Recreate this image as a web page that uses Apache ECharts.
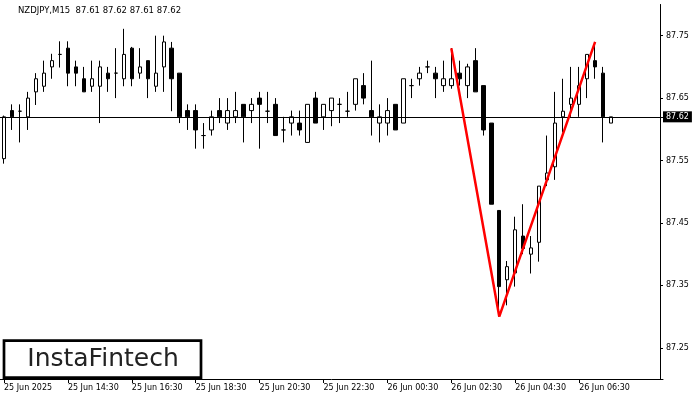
<!DOCTYPE html>
<html>
<head>
<meta charset="utf-8">
<script src="https://cdn.jsdelivr.net/npm/echarts@6/dist/echarts.min.js"></script>
<style>html,body{margin:0;padding:0;background:#fff}#c{width:700px;height:400px}</style>
</head>
<body>
<div id="c"></div>
<script>
// Tick labels on the time axis (every 8 bars, 2 hours)
const tickLabels = ['25 Jun 2025','25 Jun 14:30','25 Jun 16:30','25 Jun 18:30','25 Jun 20:30','25 Jun 22:30','26 Jun 00:30','26 Jun 02:30','26 Jun 04:30','26 Jun 06:30'];
// Price tick labels
const priceTicks = [87.25, 87.35, 87.45, 87.55, 87.65, 87.75];
const symbolTitle = 'NZDJPY,M15  87.61 87.62 87.61 87.62';
const currentPrice = 87.62;

// OHLC series (77 bars of 15 minutes, from 25 Jun 12:30)
const opens  = [87.553,87.630,87.629,87.620,87.660,87.669,87.700,87.720,87.730,87.700,87.681,87.669,87.669,87.690,87.690,87.681,87.730,87.690,87.710,87.669,87.700,87.730,87.690,87.630,87.630,87.590,87.599,87.630,87.610,87.620,87.640,87.630,87.650,87.629,87.640,87.599,87.610,87.610,87.579,87.650,87.620,87.630,87.640,87.629,87.640,87.670,87.630,87.610,87.610,87.640,87.610,87.670,87.681,87.700,87.690,87.670,87.670,87.690,87.670,87.710,87.670,87.610,87.470,87.359,87.370,87.429,87.400,87.419,87.519,87.540,87.620,87.640,87.640,87.681,87.710,87.690,87.610];
const highs  = [87.622,87.640,87.640,87.660,87.690,87.710,87.721,87.741,87.741,87.710,87.700,87.710,87.710,87.700,87.730,87.761,87.732,87.730,87.710,87.750,87.750,87.740,87.690,87.640,87.640,87.610,87.630,87.650,87.650,87.660,87.640,87.650,87.660,87.660,87.650,87.620,87.630,87.630,87.640,87.660,87.640,87.650,87.650,87.660,87.681,87.690,87.710,87.640,87.650,87.640,87.681,87.681,87.700,87.710,87.700,87.710,87.730,87.710,87.705,87.730,87.670,87.610,87.470,87.389,87.460,87.480,87.429,87.509,87.590,87.660,87.681,87.700,87.700,87.720,87.740,87.700,87.620];
const lows   = [87.545,87.599,87.579,87.599,87.639,87.660,87.681,87.699,87.669,87.669,87.660,87.660,87.610,87.660,87.650,87.669,87.669,87.681,87.650,87.660,87.660,87.629,87.610,87.599,87.569,87.569,87.590,87.610,87.599,87.610,87.579,87.610,87.569,87.610,87.590,87.579,87.590,87.590,87.579,87.610,87.599,87.605,87.610,87.620,87.630,87.640,87.590,87.579,87.590,87.599,87.610,87.650,87.670,87.690,87.650,87.660,87.665,87.670,87.650,87.660,87.590,87.480,87.300,87.318,87.348,87.400,87.369,87.388,87.509,87.519,87.595,87.620,87.620,87.650,87.681,87.579,87.610];
const closes = [87.620,87.620,87.629,87.650,87.681,87.690,87.710,87.720,87.690,87.690,87.660,87.681,87.700,87.681,87.690,87.720,87.681,87.700,87.681,87.690,87.740,87.681,87.620,87.620,87.599,87.590,87.620,87.620,87.630,87.630,87.620,87.640,87.640,87.629,87.590,87.599,87.620,87.599,87.640,87.610,87.640,87.650,87.640,87.629,87.681,87.650,87.620,87.620,87.630,87.599,87.681,87.670,87.690,87.700,87.681,87.681,87.681,87.681,87.700,87.660,87.599,87.480,87.348,87.380,87.439,87.409,87.410,87.509,87.530,87.610,87.629,87.650,87.670,87.720,87.700,87.620,87.620];

// Pattern line: [bar index, price]
const patternLine = [[56, 87.730], [62, 87.300], [74, 87.740]];

const totalSlots = 83; // bars + empty space on the right
const categories = [];
for (let i = 0; i < totalSlots; i++) {
  const m = 12 * 60 + 30 + i * 15;
  const day = m >= 1440 ? 26 : 25;
  const mm = m % 1440;
  const hh = String(Math.floor(mm / 60)).padStart(2, '0');
  const mi = String(mm % 60).padStart(2, '0');
  categories.push(day + ' Jun ' + hh + ':' + mi);
}
const candleData = opens.map((o, i) => [o, closes[i], lows[i], highs[i]]);

const FONT = 'DejaVu Sans';
const chart = echarts.init(document.getElementById('c'), null, {renderer: 'canvas'});
chart.setOption({
  animation: false,
  backgroundColor: '#fff',
  grid: {left: -1, right: 37, top: 4.47, bottom: 21, containLabel: false},
  xAxis: {
    type: 'category',
    data: categories,
    boundaryGap: true,
    axisLine: {show: true, lineStyle: {color: '#000', width: 1}},
    axisTick: {show: true, alignWithLabel: true, length: 4, lineStyle: {color: '#000'},
      interval: (idx) => idx % 8 === 0 && idx / 8 < tickLabels.length},
    axisLabel: {
      show: true, color: '#000', fontFamily: FONT, fontSize: 8, align: 'left', margin: 5,
      interval: (idx) => idx % 8 === 0 && idx / 8 < tickLabels.length,
      formatter: (v, idx) => tickLabels[idx / 8] || ''
    },
    splitLine: {show: false}
  },
  yAxis: {
    type: 'value', position: 'right', offset: -3,
    min: 87.20, max: 87.80, scale: true,
    axisLine: {show: true, lineStyle: {color: '#000', width: 1}},
    axisTick: {show: true, length: 3, lineStyle: {color: '#000'}, customValues: priceTicks},
    axisLabel: {show: true, color: '#000', fontFamily: FONT, fontSize: 8, margin: 6,
      customValues: priceTicks, formatter: (v) => v.toFixed(2)},
    splitLine: {show: false}
  },
  series: [
    {
      type: 'candlestick',
      data: candleData,
      barWidth: 4,
      clip: false,
      itemStyle: {
        color: '#fff', color0: '#000',
        borderColor: '#000', borderColor0: '#000', borderColorDoji: '#000',
        borderWidth: 1
      },
      markLine: {
        silent: true,
        symbol: ['none', 'none'],
        animation: false,
        lineStyle: {color: '#000', width: 1, type: 'solid'},
        label: {
          show: true, position: 'end', distance: 0,
          formatter: () => currentPrice.toFixed(2),
          color: '#fff', backgroundColor: '#000',
          fontFamily: FONT, fontSize: 8, padding: [2, 3, 1, 3]
        },
        data: [{yAxis: currentPrice}]
      }
    },
    {
      type: 'line',
      data: patternLine,
      symbol: 'none',
      lineStyle: {color: '#ff0000', width: 2.5},
      z: 5
    }
  ],
  graphic: [
    {type: 'text', left: 18, top: 6, style: {text: symbolTitle, font: '8.5px "DejaVu Sans"', fill: '#000'}},
    {type: 'rect', shape: {x: 4, y: 340.7, width: 197, height: 37}, style: {fill: '#fff', stroke: '#000', lineWidth: 2.7}, z: 100},
    {type: 'text', x: 103, y: 359.5, style: {text: 'InstaFintech', font: '500 25px "DejaVu Sans"', fill: '#222', textAlign: 'center', textVerticalAlign: 'middle'}, z: 101}
  ]
});
</script>
</body>
</html>
